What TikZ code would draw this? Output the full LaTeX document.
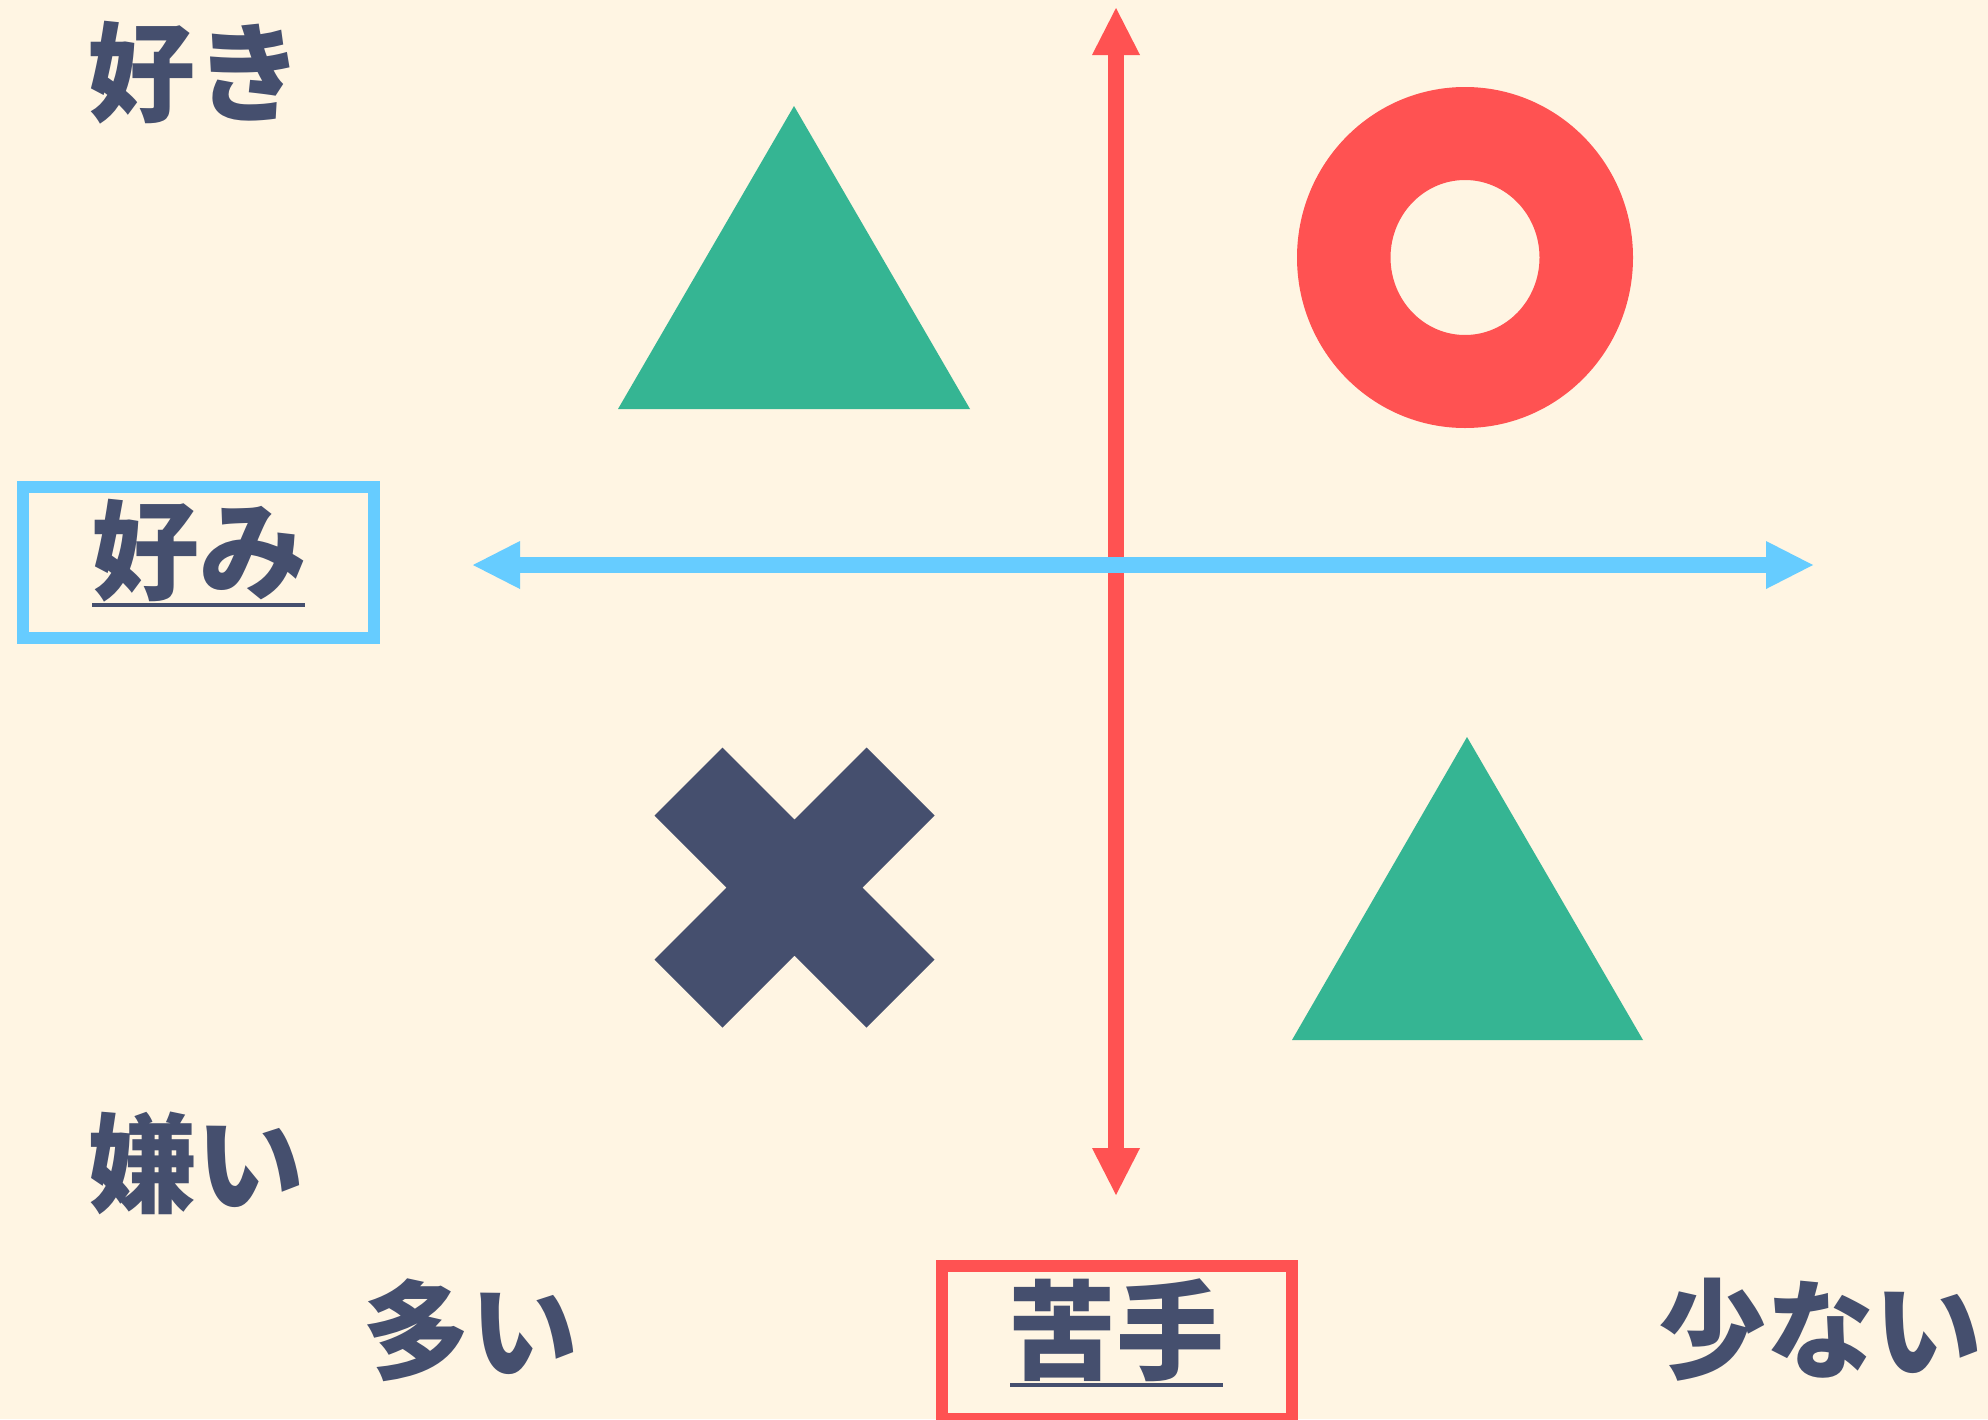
\documentclass[tikz,border=0pt]{standalone}
\usepackage{fontspec}
\newfontfamily\cjk{Noto Sans CJK JP}
\definecolor{bg}{HTML}{FFF5E3}
\definecolor{navy}{HTML}{454F6E}
\definecolor{mygreen}{HTML}{35B593}
\definecolor{myred}{HTML}{FF5252}
\definecolor{myblue}{HTML}{66CCFF}
\tikzset{
  lbl/.style={inner sep=0pt, text=navy, font=\cjk\bfseries\fontsize{108}{108}\selectfont},
  axis/.style={line width=16pt},
  framebox/.style={line width=12pt},
  uline/.style={line width=4pt, draw=navy},
}
\begin{document}
\begin{tikzpicture}[x=1pt,y=-1pt]
\fill[bg] (0,0) rectangle (1988,1419);
\useasboundingbox (0,0) rectangle (1988,1419);
% shapes
\fill[mygreen] (794,106) -- (970,409) -- (618,409) -- cycle;
\fill[mygreen] (1467,737) -- (1643,1040) -- (1292,1040) -- cycle;
\fill[myred, even odd rule] (1465,257.5) ellipse [x radius=168, y radius=170.5]
  (1465,257.5) ellipse [x radius=74.5, y radius=77.5];
\begin{scope}[shift={(794.5,887.5)}]
\fill[navy] (-140,-72) -- (-72,-140) -- (0,-68) -- (72,-140) -- (140,-72) -- (68,0)
  -- (140,72) -- (72,140) -- (0,68) -- (-72,140) -- (-140,72) -- (-68,0) -- cycle;
\end{scope}
% axes
\coordinate (vtop) at (1116,8);
\coordinate (vbot) at (1116,1195);
\coordinate (vs1) at (1116,52);
\coordinate (vs2) at (1116,1151);
\coordinate (hl) at (473,565);
\coordinate (hr) at (1813,565);
\coordinate (hs1) at (517,565);
\coordinate (hs2) at (1769,565);
\draw[axis, myred] (vs1) -- (vs2);
\fill[myred] (vtop) -- ++(24,47) -- ++(-48,0) -- cycle;
\fill[myred] (vbot) -- ++(24,-47) -- ++(-48,0) -- cycle;
\draw[axis, myblue] (hs1) -- (hs2);
\fill[myblue] (hl) -- ++(47,-24) -- ++(0,48) -- cycle;
\fill[myblue] (hr) -- ++(-47,-24) -- ++(0,48) -- cycle;
% boxes
\draw[framebox, myblue] (22.5,487) rectangle (374,638);
\draw[framebox, myred] (942,1266) rectangle (1292,1419);
% labels
\node[lbl] (suki) at (195,73) {好き};
\node[lbl] (konomi) at (199,551) {好み};
\node[lbl] (kirai) at (196.5,1163) {嫌い};
\node[lbl] (ooi) at (470,1330) {多い};
\node[lbl] (nigate) at (1116,1330) {苦手};
\node[lbl] (sukunai) at (1820,1330) {少ない};
\draw[uline] (92,605) -- (305,605);
\draw[uline] (1010,1385) -- (1223,1385);
\end{tikzpicture}
\end{document}
